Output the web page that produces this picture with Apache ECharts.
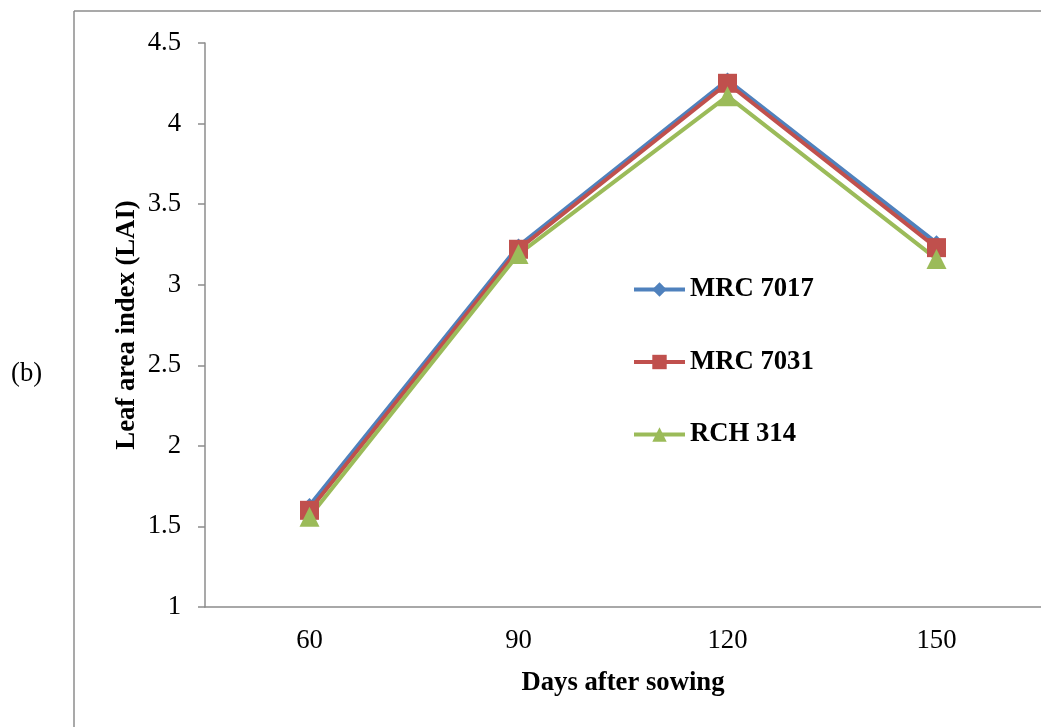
<!DOCTYPE html>
<html>
<head>
<meta charset="utf-8">
<script src="https://cdn.jsdelivr.net/npm/echarts@6/dist/echarts.min.js"></script>
<style>
html,body{margin:0;padding:0;background:#fff;}
#chart{width:1041px;height:727px;}
</style>
</head>
<body>
<div id="chart"></div>
<script>
const categories = ['60', '90', '120', '150'];
const mrc7017 = [1.63, 3.24, 4.27, 3.26];
const mrc7031 = [1.60, 3.22, 4.25, 3.23];
const rch314 = [1.56, 3.19, 4.17, 3.16];
const seriesNames = ['MRC 7017', 'MRC 7031', 'RCH 314'];

const FONT = 'Liberation Serif';
const FS = 26.7;
const chart = echarts.init(document.getElementById('chart'));
chart.setOption({
  animation: false,
  backgroundColor: '#fff',
  textStyle: { fontFamily: FONT },
  graphic: [
    { type: 'line', shape: { x1: 74, y1: 11, x2: 74, y2: 740 }, style: { stroke: '#8c8c8c', lineWidth: 1.5 } },
    { type: 'line', shape: { x1: 74, y1: 11, x2: 1050, y2: 11 }, style: { stroke: '#8c8c8c', lineWidth: 1.5 } },
    { type: 'text', left: 11, top: 360, style: { text: '(b)', fontFamily: FONT, fontSize: FS, fill: '#000' } }
  ],
  grid: { left: 205, top: 43, width: 838, bottom: 120, containLabel: false },
  legend: {
    orient: 'vertical',
    left: 627,
    top: 271,
    itemWidth: 51,
    itemHeight: 18,
    itemGap: 45.5,
    data: seriesNames,
    lineStyle: { width: 4 },
    textStyle: { fontFamily: FONT, fontSize: FS, fontWeight: 'bold', color: '#000', lineHeight: 27 }
  },
  xAxis: {
    type: 'category',
    data: categories,
    boundaryGap: true,
    name: 'Days after sowing',
    nameLocation: 'middle',
    nameGap: 63,
    nameTextStyle: { fontFamily: FONT, fontSize: FS, fontWeight: 'bold', color: '#000' },
    axisLine: { lineStyle: { color: '#8c8c8c', width: 1.5 } },
    axisTick: { show: false },
    axisLabel: { fontFamily: FONT, fontSize: FS, color: '#000', margin: 20 },
    splitLine: { show: false }
  },
  yAxis: {
    type: 'value',
    min: 1,
    max: 4.5,
    interval: 0.5,
    name: 'Leaf area index (LAI)',
    nameLocation: 'middle',
    nameGap: 64,
    nameMoveOverlap: false,
    nameRotate: 90,
    nameTextStyle: { fontFamily: FONT, fontSize: FS, fontWeight: 'bold', color: '#000' },
    axisLine: { show: true, lineStyle: { color: '#8c8c8c', width: 1.5 } },
    axisTick: { show: true, length: 7, lineStyle: { color: '#8c8c8c', width: 1.5 } },
    axisLabel: { fontFamily: FONT, fontSize: FS, color: '#000', margin: 24 },
    splitLine: { show: false }
  },
  series: [
    {
      name: seriesNames[0], type: 'line', data: mrc7017,
      symbol: 'diamond', symbolSize: 15,
      lineStyle: { color: '#4F81BD', width: 4 },
      itemStyle: { color: '#4F81BD' }
    },
    {
      name: seriesNames[1], type: 'line', data: mrc7031,
      symbol: 'rect', symbolSize: 19,
      lineStyle: { color: '#C0504D', width: 4 },
      itemStyle: { color: '#C0504D' }
    },
    {
      name: seriesNames[2], type: 'line', data: rch314,
      symbol: 'triangle', symbolSize: 20,
      lineStyle: { color: '#9BBB59', width: 4 },
      itemStyle: { color: '#9BBB59' }
    }
  ]
});
</script>
</body>
</html>
